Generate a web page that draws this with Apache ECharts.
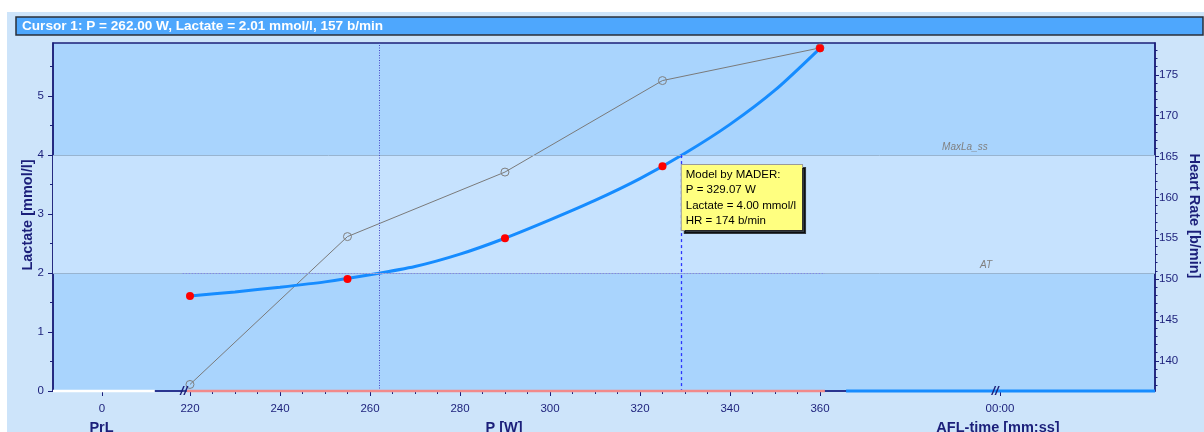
<!DOCTYPE html>
<html>
<head>
<meta charset="utf-8">
<script src="https://cdn.jsdelivr.net/npm/echarts@6/dist/echarts.min.js"></script>
<style>
html,body{margin:0;padding:0;background:#ffffff;}
#chart{width:1204px;height:432px;}
</style>
</head>
<body>
<div id="chart"></div>
<script>
// ---- data ----
const stepPower = [220, 255, 290, 325, 360];
const lactateValues = [1.61, 1.90, 2.59, 3.81, 5.81];
const heartRateValues = [137.1, 155.2, 163.1, 174.3, 178.3];
const modelPower = [220, 230, 240, 250, 260, 270, 280, 290, 300, 310, 320, 330, 340, 350, 360];
const modelLactate = [1.61, 1.68, 1.76, 1.85, 1.97, 2.11, 2.32, 2.59, 2.90, 3.23, 3.60, 4.03, 4.52, 5.10, 5.81];
const powerTicks = [220, 240, 260, 280, 300, 320, 340, 360];
const lactateTicks = [0, 1, 2, 3, 4, 5];
const hrTicks = [140, 145, 150, 155, 160, 165, 170, 175];
const cursorPower = 262;
const modelPoint = { power: 329.07, lactate: 4.00, hr: 174 };
const thresholds = { maxLaSs: 4, at: 2 };
const titleText = 'Cursor 1: P = 262.00 W, Lactate = 2.01 mmol/l, 157 b/min';

// ---- axis geometry helpers ----
const XMIN = 189.56, XMAX = 434.45;
const PRL_POS = 200.44, AFL_POS = 400;
const LMIN = 0, LMAX = 5.9;
const HMIN = 136.3, HMAX = 178.9;
const NAVY = '#1b1f7a';
const FONT = 'Liberation Sans';
const NAME_FONT = 'bold 14.5px "Liberation Sans"';

const xMajor = [PRL_POS].concat(powerTicks, [AFL_POS]);
const xMinor = [];
for (let v = 225; v < 360; v += 5) if (v % 20 !== 0) xMinor.push(v);
const lMinor = [];
for (let v = 0.5; v < LMAX; v += 1) lMinor.push(v);
const hMinor = [];
for (let v = 137; v <= 178; v++) if (v % 5 !== 0) hMinor.push(v);

function xLabel(v) {
  if (Math.abs(v - PRL_POS) < 0.01) return '0';
  if (Math.abs(v - AFL_POS) < 0.01) return '00:00';
  return String(Math.round(v));
}

const chart = echarts.init(document.getElementById('chart'), null, { renderer: 'canvas' });
const tickLabel = { color: NAVY, fontSize: 11.5, fontFamily: FONT };

const option = {
  animation: false,
  textStyle: { fontFamily: FONT },
  graphic: [
    { type: 'rect', z: -10, shape: { x: 7, y: 12, width: 1197, height: 420 }, style: { fill: '#cde4fa' } },
    { type: 'rect', z: 5, shape: { x: 16, y: 17, width: 1187, height: 18 }, style: { fill: '#4ea7fd', stroke: '#2a2f3a', lineWidth: 1.5 } },
    { type: 'text', z: 6, x: 22, y: 26.5, style: { text: titleText, fill: '#ffffff', font: 'bold 13.6px "Liberation Sans"', verticalAlign: 'middle' } },
    { type: 'text', x: 27.5, y: 215, rotation: Math.PI / 2, style: { text: 'Lactate [mmol/l]', fill: NAVY, font: NAME_FONT, align: 'center', verticalAlign: 'middle' } },
    { type: 'text', x: 1194, y: 216, rotation: -Math.PI / 2, style: { text: 'Heart Rate [b/min]', fill: NAVY, font: NAME_FONT, align: 'center', verticalAlign: 'middle' } },
    { type: 'text', x: 101.5, y: 420, style: { text: 'PrL', fill: NAVY, font: NAME_FONT, align: 'center', verticalAlign: 'top' } },
    { type: 'text', x: 504, y: 420, style: { text: 'P [W]', fill: NAVY, font: NAME_FONT, align: 'center', verticalAlign: 'top' } },
    { type: 'text', x: 998, y: 420, style: { text: 'AFL-time [mm:ss]', fill: NAVY, font: NAME_FONT, align: 'center', verticalAlign: 'top' } }
  ],
  grid: {
    left: 53, right: 49, top: 43, bottom: 41,
    show: true, backgroundColor: '#a9d4fd', borderColor: NAVY, borderWidth: 1.5
  },
  xAxis: [
    {
      type: 'value', min: XMIN, max: XMAX, position: 'bottom',
      axisLine: { show: false }, splitLine: { show: false },
      axisTick: { show: true, customValues: xMajor, length: 5, lineStyle: { color: NAVY, width: 1 } },
      axisLabel: { show: true, customValues: xMajor, formatter: xLabel, margin: 12, ...tickLabel }
    },
    {
      type: 'value', min: XMIN, max: XMAX, position: 'bottom',
      axisLine: { show: false }, splitLine: { show: false },
      axisTick: { show: true, customValues: xMinor, length: 3, lineStyle: { color: NAVY, width: 1 } },
      axisLabel: { show: false }
    }
  ],
  yAxis: [
    {
      type: 'value', min: LMIN, max: LMAX, position: 'left',
      axisLine: { show: true, lineStyle: { color: NAVY, width: 1.5 } }, splitLine: { show: false },
      axisTick: { show: true, customValues: lactateTicks, length: 5, lineStyle: { color: NAVY } },
      axisLabel: { show: true, customValues: lactateTicks, margin: 9, ...tickLabel }
    },
    {
      type: 'value', min: LMIN, max: LMAX, position: 'left',
      axisLine: { show: false }, splitLine: { show: false },
      axisTick: { show: true, customValues: lMinor, length: 3, lineStyle: { color: NAVY } },
      axisLabel: { show: false }
    },
    {
      type: 'value', min: HMIN, max: HMAX, position: 'right',
      axisLine: { show: true, lineStyle: { color: NAVY, width: 1.5 } }, splitLine: { show: false },
      axisTick: { show: true, customValues: hrTicks, length: 4, lineStyle: { color: NAVY } },
      axisLabel: { show: true, customValues: hrTicks, margin: 4, ...tickLabel }
    },
    {
      type: 'value', min: HMIN, max: HMAX, position: 'right',
      axisLine: { show: false }, splitLine: { show: false },
      axisTick: { show: true, customValues: hMinor, length: 2.5, lineStyle: { color: NAVY } },
      axisLabel: { show: false }
    }
  ],
  series: [
    // bands and reference lines
    {
      type: 'line', z: 1, data: [], xAxisIndex: 0, yAxisIndex: 0, silent: true,
      markArea: {
        silent: true,
        itemStyle: { color: '#c6e2fe', opacity: 1 },
        data: [[{ yAxis: thresholds.at }, { yAxis: thresholds.maxLaSs }]]
      },
      markLine: {
        silent: true, symbol: 'none', label: { show: false },
        data: [
          { yAxis: thresholds.maxLaSs, lineStyle: { color: '#98b4d0', width: 1, type: 'solid' } },
          { yAxis: thresholds.at, lineStyle: { color: '#98b4d0', width: 1, type: 'solid' } },
          [{ coord: [218.4, thresholds.at], lineStyle: { color: '#7b7cf0', width: 1, type: [1, 2] } }, { coord: [361.1, thresholds.at] }],
          { xAxis: cursorPower, lineStyle: { color: '#4848c8', width: 1, type: [1, 1.5] } },
          [{ coord: [modelPoint.power, modelPoint.lactate], lineStyle: { color: '#2b35ff', width: 1.3, type: [3, 3] } }, { coord: [modelPoint.power, 0] }]
        ]
      }
    },
    // threshold labels
    {
      type: 'scatter', z: 2, silent: true, symbolSize: 0, xAxisIndex: 0, yAxisIndex: 0,
      itemStyle: { opacity: 1 },
      data: [
        { value: [392.2, 4.14], name: 'MaxLa_ss' },
        { value: [396.9, 2.13], name: 'AT' }
      ],
      label: { show: true, position: 'inside', formatter: p => p.name, color: '#808080', fontSize: 10, fontStyle: 'italic', fontFamily: FONT }
    },
    // heart rate
    {
      type: 'line', z: 3, xAxisIndex: 0, yAxisIndex: 2,
      data: stepPower.map((p, i) => [p, heartRateValues[i]]),
      lineStyle: { color: '#7a7a7a', width: 1 },
      symbol: 'circle', symbolSize: 8, showSymbol: true,
      itemStyle: { color: 'rgba(0,0,0,0)', borderColor: '#808080', borderWidth: 1 }
    },
    // model curve
    {
      type: 'line', z: 4, xAxisIndex: 0, yAxisIndex: 0, smooth: 0.25,
      data: modelPower.map((p, i) => [p, modelLactate[i]]),
      lineStyle: { color: '#168cff', width: 3 }, symbol: 'none'
    },
    // measured lactate
    {
      type: 'scatter', z: 5, xAxisIndex: 0, yAxisIndex: 0,
      data: stepPower.map((p, i) => [p, lactateValues[i]]),
      symbol: 'circle', symbolSize: 8, itemStyle: { color: '#ff0000', opacity: 1 }
    },
    // bottom axis segments
    { type: 'line', z: 6, clip: false, xAxisIndex: 0, yAxisIndex: 0, symbol: 'none', data: [[XMIN, 0], [212.2, 0]], lineStyle: { color: '#ffffff', width: 2.5 } },
    { type: 'line', z: 6, clip: false, xAxisIndex: 0, yAxisIndex: 0, symbol: 'none', data: [[212.2, 0], [218.4, 0]], lineStyle: { color: '#2a3590', width: 2 } },
    { type: 'line', z: 6, clip: false, xAxisIndex: 0, yAxisIndex: 0, symbol: 'none', data: [[219.3, 0], [361.1, 0]], lineStyle: { color: '#f28a8a', width: 2.5 } },
    { type: 'line', z: 6, clip: false, xAxisIndex: 0, yAxisIndex: 0, symbol: 'none', data: [[361.1, 0], [365.8, 0]], lineStyle: { color: '#2a3590', width: 2 } },
    { type: 'line', z: 6, clip: false, xAxisIndex: 0, yAxisIndex: 0, symbol: 'none', data: [[365.8, 0], [XMAX, 0]], lineStyle: { color: '#168cff', width: 3 } },
    // axis break marks
    {
      type: 'scatter', z: 7, silent: true, symbolSize: 0, xAxisIndex: 0, yAxisIndex: 0,
      itemStyle: { opacity: 1 },
      data: [[218.6, 0], [398.9, 0]],
      label: { show: true, position: 'inside', formatter: '//', color: '#1b1f7a', fontSize: 13, fontWeight: 'bold', fontStyle: 'italic', fontFamily: FONT }
    },
    // model info box
    {
      type: 'scatter', z: 10, silent: true, symbolSize: 0, xAxisIndex: 0, yAxisIndex: 0,
      itemStyle: { opacity: 1 },
      data: [[modelPoint.power, modelPoint.lactate]],
      label: {
        show: true, position: [1, 10],
        formatter: 'Model by MADER:\nP = ' + modelPoint.power.toFixed(2) + ' W\nLactate = ' + modelPoint.lactate.toFixed(2) + ' mmol/l\nHR = ' + modelPoint.hr + ' b/min',
        color: '#000000', fontSize: 11.5, fontFamily: FONT, lineHeight: 15.5,
        backgroundColor: '#ffff80', borderColor: '#9a9a9a', borderWidth: 1,
        padding: [2, 6, 1, 4],
        shadowColor: 'rgba(0,0,0,0.75)', shadowOffsetX: 3, shadowOffsetY: 3, shadowBlur: 0
      }
    }
  ]
};
chart.setOption(option);
</script>
</body>
</html>
